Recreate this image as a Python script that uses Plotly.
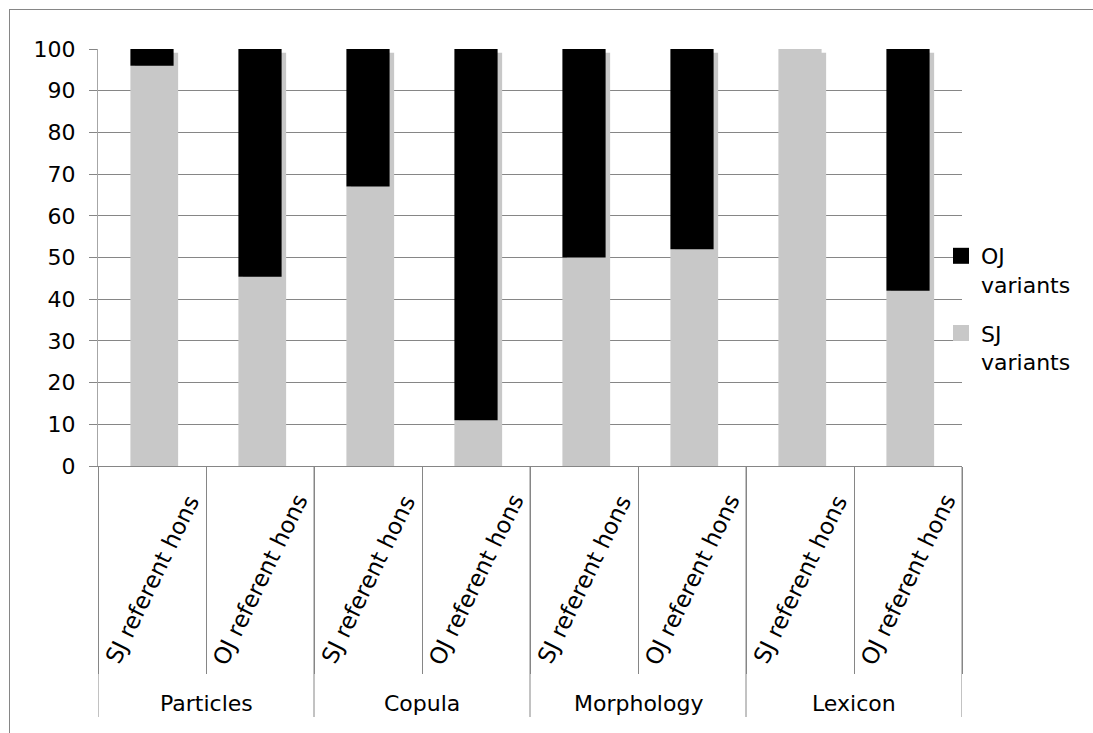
import plotly.graph_objects as go

# Categories: four feature groups, each split by referent type
groups = ["Particles", "Copula", "Morphology", "Lexicon"]
referents = ["SJ referent hons", "OJ referent hons"]
bar_ids = ["Particles SJ", "Particles OJ", "Copula SJ", "Copula OJ",
           "Morphology SJ", "Morphology OJ", "Lexicon SJ", "Lexicon OJ"]
bar_labels = referents * 4

# Percentages of SJ variants; OJ variants fill the rest up to 100
sj_variants = [96, 45.4, 67, 11, 50, 52, 100, 42]
oj_variants = [100 - v for v in sj_variants]
y_ticks = [0, 10, 20, 30, 40, 50, 60, 70, 80, 90, 100]

W, H = 1093, 733
ML, MR, MT, MB = 98, 131, 49, 267
plot_w = W - ML - MR
plot_h = H - MT - MB

GREY = "#c8c8c8"
AXIS = "#868686"
FONT = "DejaVu Sans"
FS = 22

def py(px):
    """Pixel row -> paper y coordinate."""
    return (H - MB - px) / plot_h

def px_(x):
    """Pixel column -> paper x coordinate."""
    return (x - ML) / plot_w

fig = go.Figure()

# drop shadow behind each stacked column
fig.add_trace(go.Bar(
    x=bar_ids, y=[99.1] * len(bar_ids), width=0.4, offset=-0.158,
    marker=dict(color=GREY, line_width=0), showlegend=False, hoverinfo="skip"))

fig.add_trace(go.Bar(
    x=bar_ids, y=sj_variants, width=0.4, name="SJ<br>variants",
    marker=dict(color=GREY, line_width=0), showlegend=False))
fig.add_trace(go.Bar(
    x=bar_ids, y=oj_variants, base=sj_variants, width=0.4, name="OJ<br>variants",
    marker=dict(color="#000000", line_width=0), showlegend=False))

# legend entries with larger square swatches
for name, col in [("OJ<br>variants", "#000000"), ("SJ<br>variants", GREY)]:
    fig.add_trace(go.Scatter(
        x=[None], y=[None], mode="markers", name=name, legendgroup=name,
        marker=dict(symbol="square", size=18, color=col)))

annotations = []
for cid, lab in zip(bar_ids, bar_labels):
    annotations.append(dict(
        x=cid, y=py(580), xref="x", yref="paper", text=lab, showarrow=False,
        textangle=-64, xanchor="center", yanchor="middle",
        font=dict(family=FONT, size=23, color="#000000")))
for i, g in enumerate(groups):
    annotations.append(dict(
        x=2 * i + 0.5, y=py(703), xref="x", yref="paper", text=g, showarrow=False,
        xanchor="center", yanchor="middle",
        font=dict(family=FONT, size=FS, color="#000000")))

shapes = []
# group dividers below the axis
for b in [-0.5, 1.5, 3.5, 5.5, 7.5]:
    shapes.append(dict(type="line", xref="x", yref="paper", x0=b, x1=b,
                       y0=0, y1=py(717), line=dict(color=AXIS, width=1)))
# outer chart frame (top and left edges)
shapes.append(dict(type="line", xref="paper", yref="paper",
                   x0=px_(9), x1=px_(W + 20), y0=py(9.5), y1=py(9.5),
                   line=dict(color=AXIS, width=1)))
shapes.append(dict(type="line", xref="paper", yref="paper",
                   x0=px_(9.5), x1=px_(9.5), y0=py(9), y1=py(H + 20),
                   line=dict(color=AXIS, width=1)))

fig.update_layout(
    width=W, height=H,
    margin=dict(l=ML, r=MR, t=MT, b=MB, pad=0),
    paper_bgcolor="white", plot_bgcolor="white",
    barmode="overlay", bargap=0.6,
    font=dict(family=FONT, size=FS, color="#000000"),
    showlegend=True,
    legend=dict(x=px_(941), y=py(235), xanchor="left", yanchor="top",
                valign="top", itemwidth=30, tracegroupgap=17,
                font=dict(family=FONT, size=FS, color="#000000"),
                bgcolor="rgba(0,0,0,0)"),
    annotations=annotations, shapes=shapes,
)

fig.update_xaxes(
    type="category", categoryorder="array", categoryarray=bar_ids,
    range=[-0.5, 7.5], showticklabels=False, showgrid=False,
    ticks="outside", tickson="boundaries", ticklen=207, tickcolor=AXIS, tickwidth=1,
    showline=True, linecolor=AXIS, linewidth=1, zeroline=False, fixedrange=True)

fig.update_yaxes(
    range=[0, 100], tickvals=y_ticks, ticks="outside", ticklen=8, tickcolor=AXIS,
    showgrid=True, gridcolor=AXIS, gridwidth=1, zeroline=False,
    showline=True, linecolor="#a6a6a6", linewidth=1,
    tickfont=dict(family=FONT, size=FS, color="#000000"), ticklabelstandoff=9,
    fixedrange=True)

fig.write_html("out.html")
